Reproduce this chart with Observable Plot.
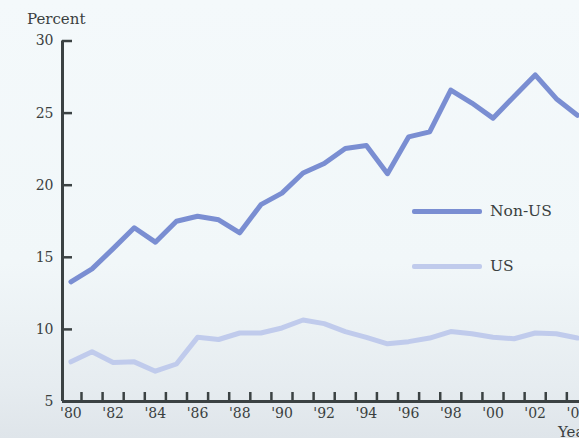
<!DOCTYPE html>
<html><head><meta charset="utf-8">
<script src="https://cdn.jsdelivr.net/npm/d3@7"></script>
<script src="https://cdn.jsdelivr.net/npm/@observablehq/plot@0.6"></script>
<style>
html,body{margin:0;padding:0;}
body{width:579px;height:438px;overflow:hidden;background:linear-gradient(to bottom,#f4f9fb 0%,#f1f7f9 60%,#e6ecf0 88%,#dfe5ea 100%);font-family:"DejaVu Serif","Liberation Serif",serif;color:#3a3f40;}
#wrap{position:relative;width:579px;height:438px;overflow:hidden;}
#wrap svg{position:absolute;left:0;top:0;background:transparent;}
.lbl{position:absolute;font-size:15px;color:#3a3f40;white-space:nowrap;}
.leg{position:absolute;display:flex;align-items:center;font-size:15.5px;color:#3a3f40;}
.leg span.sw{display:inline-block;width:70px;height:5px;border-radius:2px;margin-right:8px;}
</style></head>
<body><div id="wrap"></div>
<script>
const years = d3.range(1980, 2005);
const nonUS = [13.3,14.2,15.6,17.05,16.05,17.5,17.85,17.6,16.7,18.65,19.45,20.85,21.5,22.55,22.75,20.8,23.35,23.7,26.6,25.7,24.65,26.15,27.65,26.0,24.85];
const us    = [7.75,8.45,7.7,7.75,7.1,7.6,9.45,9.3,9.75,9.75,10.1,10.65,10.4,9.85,9.45,9.0,9.15,9.4,9.85,9.7,9.45,9.35,9.75,9.7,9.4];
const yTicks = [5,10,15,20,25,30];
const xLabelYears = d3.range(1980, 2005, 2);
const xTickPos = d3.range(1980.5, 2004, 1);
const seriesNames = ["Non-US","US"];
const colors = {"Non-US":"#7a8ed2","US":"#c0cbec"};

const rows = [];
years.forEach((yr,i)=>{rows.push({year:yr,value:nonUS[i],series:"Non-US"});rows.push({year:yr,value:us[i],series:"US"});});

const xDomain = [1979.6, 2004.1];
const yDomain = [5, 30];
const axisColor = "#3b4243";
const chart = Plot.plot({
  width: 579, height: 438,
  marginLeft: 62, marginRight: 0, marginTop: 40.5, marginBottom: 37,
  style:{background:"transparent",fontFamily:"'DejaVu Serif','Liberation Serif',serif",fontSize:"14px",color:"#3a3f40"},
  x:{domain:xDomain, range:[62,579], label:null},
  y:{domain:yDomain, range:[401,40.5], label:null},
  marks:[
    Plot.line(rows.filter(d=>d.series==="US"),{x:"year",y:"value",stroke:colors["US"],strokeWidth:5,strokeLinejoin:"round",strokeLinecap:"round"}),
    Plot.line(rows.filter(d=>d.series==="Non-US"),{x:"year",y:"value",stroke:colors["Non-US"],strokeWidth:5,strokeLinejoin:"round",strokeLinecap:"round"}),
    Plot.ruleX(xTickPos,{x:d=>d,y1:yDomain[0],y2:yDomain[0],insetTop:-9,stroke:axisColor,strokeWidth:2.5}),
    Plot.ruleY(yTicks.slice(1),{y:d=>d,x1:xDomain[0],x2:xDomain[0],insetRight:-10,stroke:axisColor,strokeWidth:2.5}),
    Plot.axisX({ticks:xLabelYears, tickSize:0, tickPadding:7, tickFormat:d=>"'"+String(d).slice(2), fill:"#3a3f40", fontSize:14, anchor:"bottom", label:null}),
    Plot.axisY({ticks:yTicks, tickSize:0, tickPadding:9, fill:"#3a3f40", fontSize:14, anchor:"left", label:null}),
    Plot.ruleY([yDomain[0]],{stroke:axisColor,strokeWidth:3}),
    Plot.ruleX([xDomain[0]],{y1:yDomain[0],y2:yDomain[1],stroke:axisColor,strokeWidth:3})
  ]
});
const wrap = document.getElementById("wrap");
wrap.appendChild(chart);

function addLabel(text,left,top,cls){const d=document.createElement("div");d.className=cls||"lbl";d.textContent=text;d.style.left=left+"px";d.style.top=top+"px";wrap.appendChild(d);return d;}
addLabel("Percent",27,10);
addLabel("Year",558,423);
[["Non-US",202],["US",257]].forEach(([name,top])=>{
  const d=document.createElement("div");d.className="leg";d.style.left="412px";d.style.top=top+"px";
  const sw=document.createElement("span");sw.className="sw";sw.style.background=colors[name];
  d.appendChild(sw);d.appendChild(document.createTextNode(name));wrap.appendChild(d);
});
</script></body></html>
